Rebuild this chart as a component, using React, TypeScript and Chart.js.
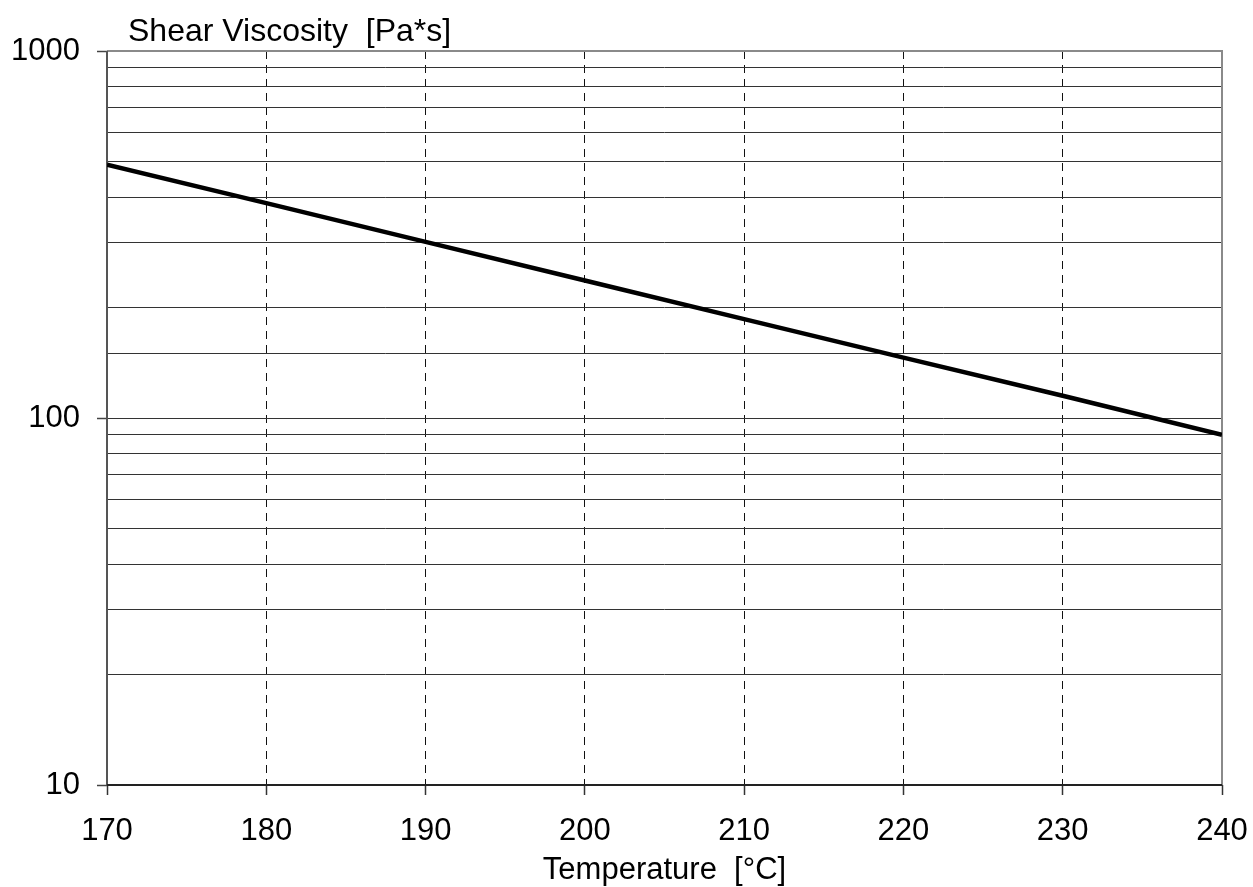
import React, { useEffect, useRef } from "react";
import { Chart, registerables } from "chart.js";

Chart.register(...registerables);

const temperatures = [170, 180, 190, 200, 210, 220, 230, 240];
const viscosity = [490, 385, 302, 237, 186, 146, 115, 90];
const xTicks = [170, 180, 190, 200, 210, 220, 230, 240];
const yLabelValues = [10, 100, 1000];
const yTitle = "Shear Viscosity  [Pa*s]";
const xTitle = "Temperature  [°C]";

const FONT = "Arial, 'Liberation Sans', sans-serif";

export default function App() {
  const ref = useRef<HTMLCanvasElement | null>(null);

  useEffect(() => {
    const canvas = ref.current;
    if (!canvas) return;

    const framePlugin = {
      id: "frame",
      beforeDatasetsDraw(chart: any) {
        const { ctx, chartArea: a } = chart;
        ctx.save();
        ctx.lineWidth = 2;
        ctx.strokeStyle = "#8a8a8a";
        ctx.beginPath();
        ctx.moveTo(a.left, a.top);
        ctx.lineTo(a.right, a.top);
        ctx.lineTo(a.right, a.bottom);
        ctx.stroke();
        ctx.strokeStyle = "#555";
        ctx.beginPath();
        ctx.moveTo(a.left, a.top);
        ctx.lineTo(a.left, a.bottom);
        ctx.stroke();
        ctx.strokeStyle = "#222";
        ctx.beginPath();
        ctx.moveTo(a.left, a.bottom);
        ctx.lineTo(a.right, a.bottom);
        ctx.stroke();
        ctx.restore();
      },
      afterDraw(chart: any) {
        const { ctx, chartArea: a } = chart;
        ctx.save();
        ctx.fillStyle = "#000";
        ctx.textBaseline = "alphabetic";
        ctx.textAlign = "left";
        ctx.font = `32px ${FONT}`;
        ctx.fillText(yTitle, 128, 41);
        ctx.textAlign = "center";
        ctx.font = `31px ${FONT}`;
        ctx.fillText(xTitle, (a.left + a.right) / 2, 879);
        ctx.restore();
      },
    };

    const chart = new Chart(canvas, {
      type: "line",
      data: {
        datasets: [
          {
            data: temperatures.map((t, i) => ({ x: t, y: viscosity[i] })),
            borderColor: "#000",
            borderWidth: 4.5,
            pointRadius: 0,
            tension: 0,
            fill: false,
          },
        ],
      },
      options: {
        responsive: false,
        animation: false,
        devicePixelRatio: 1,
        layout: { padding: { top: 51, right: 31, left: 0, bottom: 0 } },
        plugins: {
          legend: { display: false },
          tooltip: { enabled: false },
          title: { display: false },
        },
        scales: {
          x: {
            type: "linear",
            min: 170,
            max: 240,
            afterFit(scale: any) {
              scale.height = 102;
              scale.paddingLeft = 0;
              scale.paddingRight = 0;
            },
            afterBuildTicks(scale: any) {
              scale.ticks = xTicks.map((v) => ({ value: v }));
            },
            ticks: {
              font: { size: 31, family: FONT },
              color: "#000",
              padding: 18,
              maxRotation: 0,
              autoSkip: false,
            },
            grid: {
              color: (c: any) =>
                c.tick && (c.tick.value === 170 || c.tick.value === 240) ? "rgba(0,0,0,0)" : "#111",
              lineWidth: 1,
              tickLength: 10,
              tickColor: "#333",
              tickWidth: 1.5,
            },
            border: { display: false, dash: [8, 6] },
          },
          y: {
            type: "logarithmic",
            min: 10,
            max: 1000,
            afterFit(scale: any) {
              scale.width = 107;
              scale.paddingTop = 0;
              scale.paddingBottom = 0;
            },
            ticks: {
              font: { size: 31, family: FONT },
              color: "#000",
              padding: 17,
              autoSkip: false,
              callback: (v: any) => (yLabelValues.includes(Number(v)) ? String(v) : ""),
            },
            grid: {
              color: (c: any) =>
                c.tick && (c.tick.value === 10 || c.tick.value === 1000) ? "rgba(0,0,0,0)" : "#333",
              lineWidth: 1,
              tickLength: 10,
              tickColor: (c: any) =>
                c.tick && yLabelValues.includes(c.tick.value) ? "#444" : "rgba(0,0,0,0)",
              tickWidth: 1.5,
            },
            border: { display: false },
          },
        },
      } as any,
      plugins: [framePlugin],
    });

    return () => chart.destroy();
  }, []);

  return (
    <div style={{ position: "fixed", left: 0, top: 0, width: 1253, height: 887, background: "#fff" }}>
      <canvas ref={ref} width={1253} height={887} style={{ width: 1253, height: 887, display: "block" }} />
    </div>
  );
}
